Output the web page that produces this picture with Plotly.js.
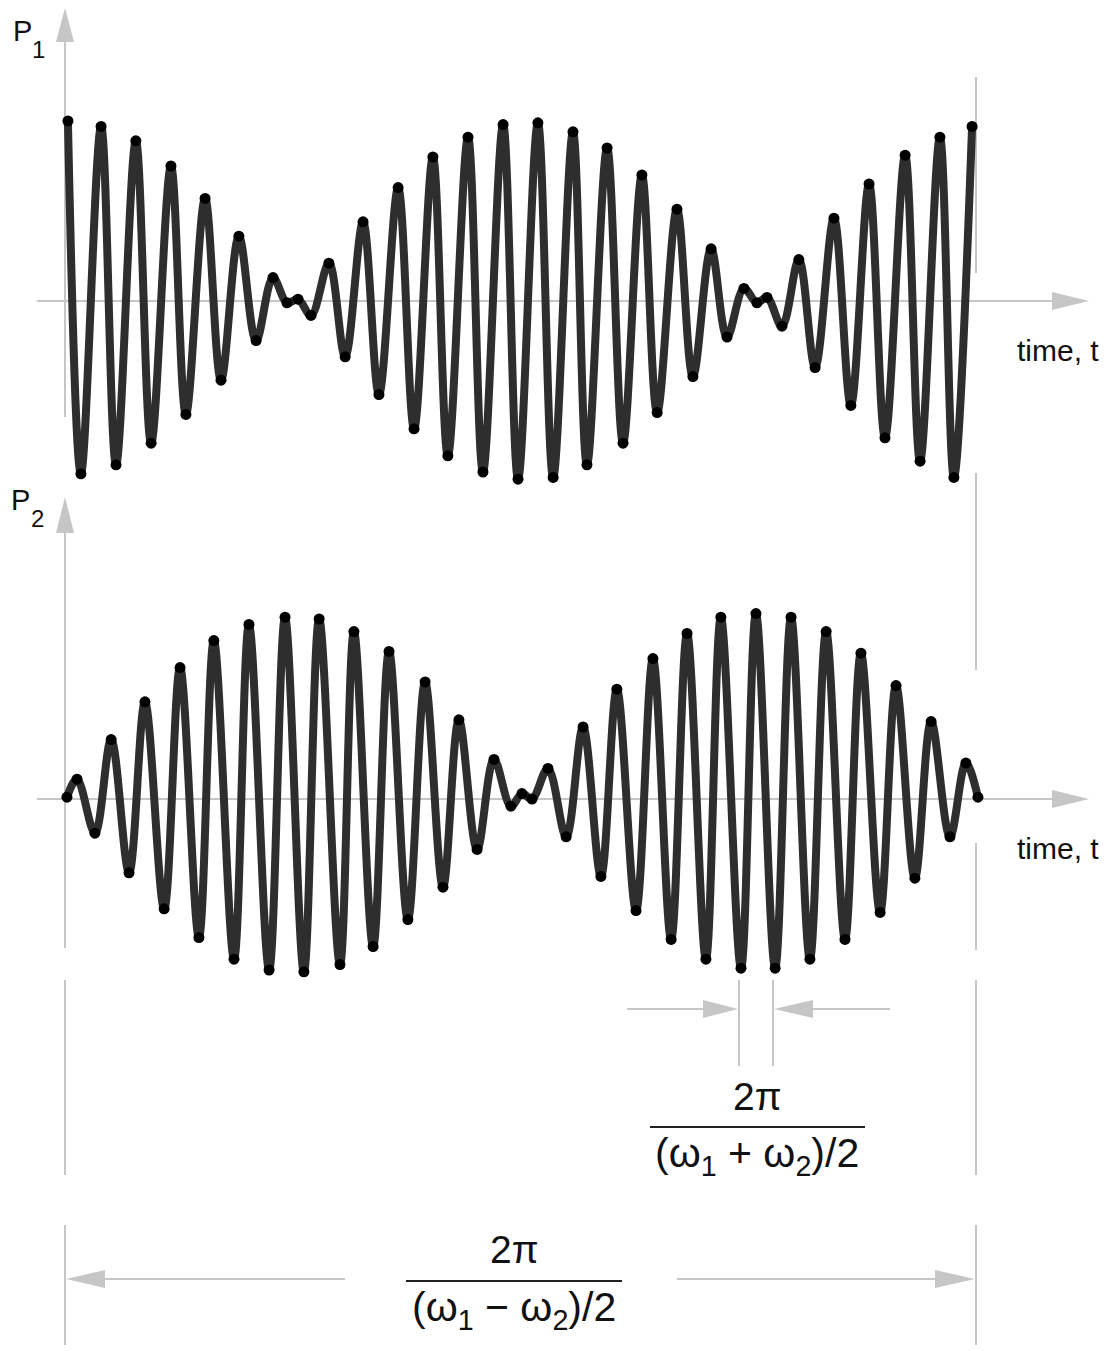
<!DOCTYPE html>
<html>
<head>
<meta charset="utf-8">
<script src="https://cdn.plot.ly/plotly-3.0.1.min.js"></script>
<style>html,body{margin:0;padding:0;background:#fff;}#chart{width:1110px;height:1351px;}</style>
</head>
<body>
<div id="chart"></div>
<script>
// Time in carrier periods; extrema of the waveforms
const t1 = [0.09,0.49,1.11,1.57,2.18,2.65,3.26,3.72,4.31,4.80,5.35,5.88,6.40,6.83,7.17,7.57,8.12,8.62,9.17,9.66,10.25,10.74,11.32,11.78,12.40,12.86,13.48,13.94,14.55,15.02,15.63,16.06,16.68,17.17,17.75,18.22,18.83,19.32,19.88,20.37,20.89,21.29,21.60,22.06,22.58,23.08,23.66,24.18,24.74,25.23,25.85,26.31,26.92,27.35,27.91];
const p1 = [1.00,-0.96,0.97,-0.91,0.89,-0.79,0.75,-0.63,0.57,-0.44,0.36,-0.22,0.13,-0.01,0.01,-0.08,0.21,-0.31,0.44,-0.52,0.63,-0.71,0.80,-0.86,0.91,-0.95,0.98,-0.99,0.99,-0.98,0.94,-0.91,0.85,-0.79,0.70,-0.62,0.51,-0.42,0.29,-0.20,0.07,-0.01,0.02,-0.14,0.23,-0.37,0.46,-0.58,0.65,-0.76,0.81,-0.89,0.91,-0.98,0.97];
const t2 = [0.06,0.37,0.92,1.42,1.97,2.46,3.05,3.54,4.12,4.58,5.20,5.66,6.28,6.77,7.35,7.82,8.46,8.89,9.48,9.97,10.55,11.08,11.63,12.12,12.68,13.20,13.72,14.06,14.37,14.86,15.42,15.94,16.49,16.98,17.57,18.09,18.65,19.14,19.72,20.18,20.80,21.26,21.85,22.34,22.92,23.42,24.00,24.49,25.08,25.57,26.15,26.65,27.23,27.72,28.09];
const p2 = [0.01,0.11,-0.19,0.33,-0.41,0.54,-0.61,0.73,-0.77,0.88,-0.89,0.97,-0.95,1.01,-0.96,1.00,-0.92,0.93,-0.82,0.82,-0.67,0.65,-0.49,0.44,-0.28,0.22,-0.04,0.03,0.00,0.17,-0.21,0.40,-0.43,0.61,-0.62,0.78,-0.78,0.92,-0.89,1.01,-0.94,1.03,-0.94,1.01,-0.89,0.93,-0.78,0.81,-0.63,0.63,-0.44,0.43,-0.21,0.20,0.01];

const axisLabel1 = ["P", "1"];
const axisLabel2 = ["P", "2"];
const timeLabel = "time, t";
const shortPeriodNum = "2π";
const shortPeriodDen = "(ω<sub>1</sub> + ω<sub>2</sub>)/2";
const longPeriodNum = "2π";
const longPeriodDen = "(ω<sub>1</sub> − ω<sub>2</sub>)/2";

// ---- geometry helpers (figure pixels -> paper) ----
const W = 1110, H = 1351;
const PX = px => px / W;
const PY = py => 1 - py / H;
const GREY = '#c6c6c6';
const FONT = 'Liberation Sans, Arial, Helvetica, sans-serif';

const shapes = [];
function gline(x0, y0, x1, y1, color, width) {
  shapes.push({type:'line', xref:'paper', yref:'paper', x0:PX(x0), y0:PY(y0), x1:PX(x1), y1:PY(y1),
    line:{color:color||GREY, width:width||2}, layer:'below'});
}
function tri(pts, color) {
  const d = 'M' + pts.map(p => PX(p[0]) + ',' + PY(p[1])).join(' L') + ' Z';
  shapes.push({type:'path', xref:'paper', yref:'paper', path:d, fillcolor:color||GREY, line:{width:0}, layer:'below'});
}

// top panel axes
gline(37, 301, 1056, 301); tri([[1052,292],[1089,301],[1052,310]]);
gline(65, 40, 65, 417); tri([[56,42],[65,8],[74,42]]);
// bottom panel axes
gline(37, 799, 1056, 799); tri([[1052,790],[1089,799],[1052,808]]);
gline(65, 531, 65, 948); tri([[56,533],[65,497],[74,533]]);
// right extension line (broken)
[[77,273],[473,670],[843,950],[980,1175],[1225,1345]].forEach(s => gline(976, s[0], 976, s[1]));
// left extension line
[[980,1175],[1225,1345]].forEach(s => gline(65, s[0], 65, s[1]));
// short period dimension
gline(739, 980, 739, 1066); gline(773, 980, 773, 1066);
gline(627, 1009, 706, 1009); tri([[703,1000],[738,1009],[703,1018]]);
gline(810, 1009, 890, 1009); tri([[813,1000],[774,1009],[813,1018]]);
// long period dimension
gline(102, 1279, 345, 1279); tri([[105,1270],[66,1279],[105,1288]]);
gline(677, 1279, 938, 1279); tri([[935,1270],[975,1279],[935,1288]]);
// fraction bars
gline(650, 1127, 865, 1127, '#222', 2);
gline(406, 1281, 622, 1281, '#222', 2);

const ann = [];
function txt(text, x, y, size, xanchor) {
  ann.push({text:text, xref:'paper', yref:'paper', x:PX(x), y:PY(y), xanchor:xanchor||'center', yanchor:'middle',
    showarrow:false, font:{family:FONT, size:size, color:'#111'}});
}
txt(axisLabel1[0], 11, 31, 29, 'left');
txt(axisLabel1[1], 30, 50, 24, 'left');
txt(axisLabel2[0], 9, 500, 29, 'left');
txt(axisLabel2[1], 29, 518, 24, 'left');
txt(timeLabel, 1015, 350, 30, 'left');
txt(timeLabel, 1015, 848, 30, 'left');
txt(shortPeriodNum, 757, 1096, 39);
txt(shortPeriodDen, 757, 1156, 41);
txt(longPeriodNum, 514, 1249, 39);
txt(longPeriodDen, 514, 1310, 41);

const lineStyle = {shape:'spline', smoothing:1, color:'#2e2e2e', width:8};
const markStyle = {size:11, color:'#000'};
const data = [
  {x:t1, y:p1, type:'scatter', mode:'lines+markers', line:lineStyle, marker:markStyle, yaxis:'y', hoverinfo:'skip'},
  {x:t2, y:p2, type:'scatter', mode:'lines+markers', line:lineStyle, marker:markStyle, yaxis:'y2', hoverinfo:'skip'}
];

// axis ranges chosen so that t=0 sits on the P axes and amplitude 1 = 180 px
const layout = {
  width:W, height:H, margin:{l:0,r:0,t:0,b:0}, paper_bgcolor:'#fff', plot_bgcolor:'#fff', showlegend:false,
  xaxis:{range:[-65/32.5, (W-65)/32.5], visible:false, fixedrange:true},
  yaxis:{range:[(301-H)/180, 301/180], visible:false, fixedrange:true},
  yaxis2:{range:[(799-H)/180, 799/180], overlaying:'y', visible:false, fixedrange:true},
  shapes:shapes, annotations:ann
};
Plotly.newPlot('chart', data, layout, {staticPlot:true, displayModeBar:false});
</script>
</body>
</html>
